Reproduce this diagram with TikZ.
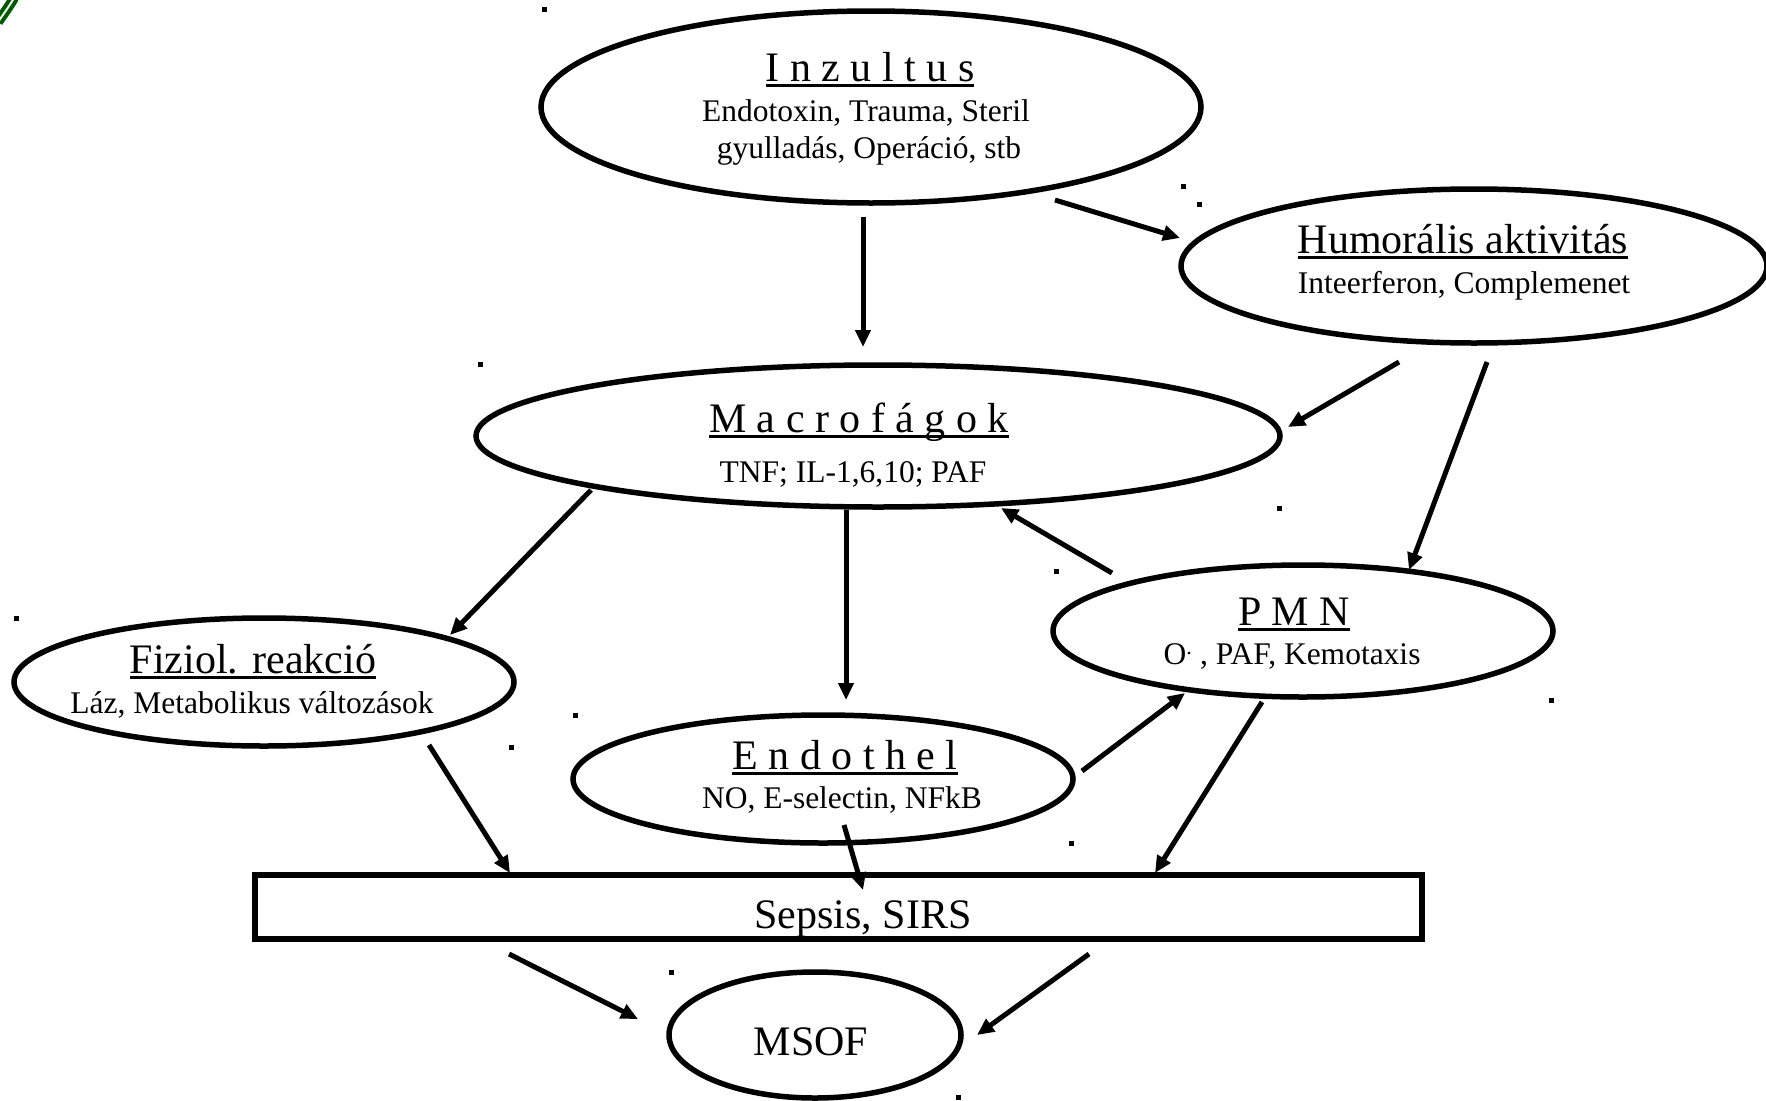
\documentclass[tikz,border=0pt]{standalone}
\usepackage{fontspec}
\setmainfont{Liberation Serif}
\usetikzlibrary{shapes.geometric,arrows.meta,calc}
\newcommand\myul[1]{\setbox0\hbox{#1}\rlap{\rule[-5.5pt]{\wd0}{2.2pt}}\box0}
\tikzset{
  oval/.style={draw, ellipse, line width=5.5pt, inner sep=0pt, outer sep=0pt},
  ttl/.style={font=\fontsize{42}{48}\selectfont, anchor=base, inner sep=0pt},
  bod/.style={font=\fontsize{31.5}{36}\selectfont, anchor=base, inner sep=0pt},
  arr/.style={line width=5pt, -{Triangle[length=17pt,width=15pt]}},
  dotsq/.style={fill=black, inner sep=0pt, minimum size=5pt, rectangle}
}
\begin{document}
\begin{tikzpicture}[x=1pt,y=-1pt]
\useasboundingbox (0,0) rectangle (1766,1100);
\clip (0,0) rectangle (1766,1100);
% logo fragment
\draw[green!35!black, line width=4pt, double=green!8!white, double distance=2pt] (-2,22) .. controls (5,12) and (10,5) .. (14,-2);
% ellipses
\node[oval, minimum width=660pt, minimum height=192pt] (inz) at (871,107) {};
\node[oval, minimum width=586pt, minimum height=154pt] (hum) at (1474,266) {};
\node[oval, minimum width=804pt, minimum height=142pt] (mac) at (878,436) {};
\node[oval, minimum width=500pt, minimum height=132pt] (pmn) at (1303,631) {};
\node[oval, minimum width=500pt, minimum height=128pt] (fiz) at (264,682) {};
\node[oval, minimum width=500pt, minimum height=128pt] (endo) at (823,779) {};
\node[draw, rectangle, line width=5.5pt, inner sep=0pt, minimum width=1167pt, minimum height=64pt] (sep) at (838.5,907) {};
\node[oval, minimum width=292pt, minimum height=126pt] (msof) at (815,1035) {};
% texts
\node[ttl] (inzT) at (870,81) {\myul{I n z u l t u s}};
\node[bod] (inzB1) at (866,121) {Endotoxin, Trauma, Steril};
\node[bod] (inzB2) at (869,158) {gyulladás, Operáció, stb};
\node[ttl] (humT) at (1463,253) {\myul{Humorális aktivitás}};
\node[bod] (humB) at (1464,293) {Inteerferon, Complemenet};
\node[ttl] (macT) at (859,432) {\myul{M a c r o f á g o k}};
\node[bod] (macB) at (853,482) {TNF; IL-1,6,10; PAF};
\node[ttl] (pmnT) at (1294,625) {\myul{P M N}};
\node[bod] (pmnB) at (1292,664) {O\textsuperscript{.}\ , PAF, Kemotaxis};
\node[ttl] (fizT) at (253,673) {\myul{Fiziol. reakció}};
\node[bod] (fizB) at (252,713) {Láz, Metabolikus változások};
\node[ttl] (endoT) at (845,769) {\myul{E n d o t h e l}};
\node[bod] (endoB) at (842,808) {NO, E-selectin, NFkB};
\node[ttl] (sepT) at (863,928) {Sepsis, SIRS};
\node[ttl] (msofT) at (811,1055) {MSOF};
% arrows
\draw[arr] ($(inz)+(-8,110)$) -- ($(mac)+(-15,-89)$);
\draw[arr] ($(inz)+(184,93)$) -- ($(hum)+(-294,-28)$);
\draw[arr] ($(hum)+(-75,96)$) -- ($(mac)+(410,-9)$);
\draw[arr] ($(hum)+(13,96)$) -- ($(pmn)+(106,-61)$);
\draw[arr] ($(pmn)+(-191,-58)$) -- ($(mac)+(123,72)$);
\draw[arr] ($(mac)+(-287,54)$) -- ($(fiz)+(186,-47)$);
\draw[arr] ($(mac)+(-32,74)$) -- ($(endo)+(23,-79)$);
\draw[arr] ($(endo)+(259,-8)$) -- ($(pmn)+(-118,62)$);
\draw[arr] ($(fiz)+(165,63)$) -- ($(sep)+(-328.5,-34)$);
\draw[arr] ($(endo)+(21,46)$) -- ($(sep)+(24.5,-17)$);
\draw[arr] ($(pmn)+(-41,71)$) -- ($(sep)+(316.5,-34)$);
\draw[arr] ($(sep)+(-329.5,47)$) -- ($(msof)+(-177,-16)$);
\draw[arr] ($(sep)+(250.5,47)$) -- ($(msof)+(162,0)$);
% stray dots
\node[dotsq] (d1) at (544,9) {};
\node[dotsq] (d2) at (1183,186) {};
\node[dotsq] (d3) at (1199,204) {};
\node[dotsq] (d4) at (480,364) {};
\node[dotsq] (d5) at (1279,508) {};
\node[dotsq] (d6) at (1056,571) {};
\node[dotsq] (d7) at (16,618) {};
\node[dotsq] (d8) at (575,715) {};
\node[dotsq] (d9) at (511,747) {};
\node[dotsq] (d10) at (1551,700) {};
\node[dotsq] (d11) at (1071,843) {};
\node[dotsq] (d12) at (671,972) {};
\node[dotsq] (d13) at (958,1097) {};
\end{tikzpicture}
\end{document}
